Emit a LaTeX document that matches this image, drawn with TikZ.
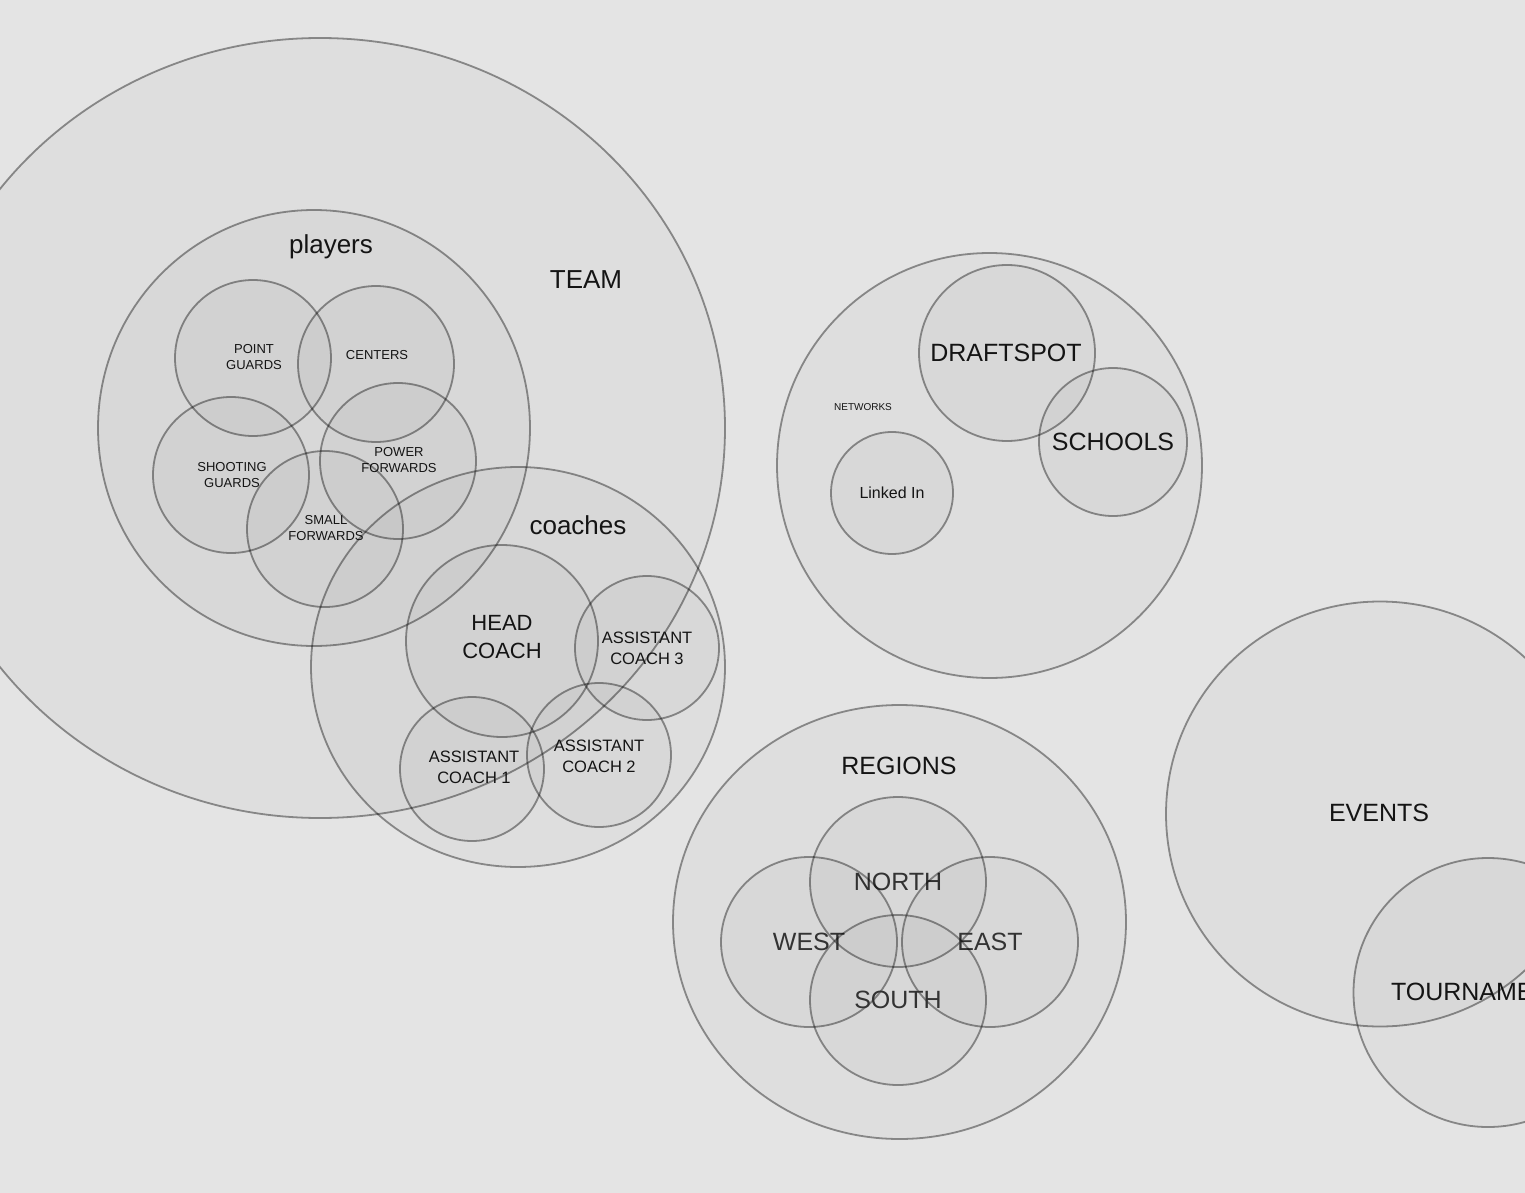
\documentclass[tikz,border=0pt]{standalone}
\usepackage{fontspec}
\setmainfont{Liberation Sans}
\definecolor{bgc}{HTML}{E4E4E4}
\newcommand\fsz[2]{\fontsize{#1}{#2}\selectfont}
\begin{document}
\begin{tikzpicture}[x=1pt,y=-1pt,
  vc/.style={fill=black, fill opacity=0.025, draw=black, draw opacity=0.4, line width=1.8pt},
  lbl/.style={inner sep=0pt, align=center, text=black!92},
  big/.style={lbl, font=\fsz{25}{30}},
  small/.style={lbl, font=\fsz{13}{16}},
  mid/.style={lbl, font=\fsz{16.5}{21}},
  head/.style={lbl, font=\fsz{22}{28}},
  reg/.style={lbl, font=\fsz{25}{30}, text=black!80}]
\clip (0,0) rectangle (1525,1193);
\fill[bgc] (0,0) rectangle (1525,1193);
\useasboundingbox (0,0) rectangle (1525,1193);

% TEAM cluster
\draw[vc] (320,428) ellipse [x radius=405pt, y radius=390pt];
\node[big, font=\fsz{26}{30}] (team) at (586,280) {TEAM};
\draw[vc] (314,428) ellipse [x radius=216pt, y radius=218pt];
\node[big, font=\fsz{26}{30}] (players) at (331,247) {players};
\draw[vc] (253,358) circle [radius=78pt];
\node[small] (pg) at (254,357) {POINT\\GUARDS};
\draw[vc] (376,364) circle [radius=78pt];
\node[small] (ce) at (377,355) {CENTERS};
\draw[vc] (231,475) circle [radius=78pt];
\node[small] (sg) at (232,475) {SHOOTING\\GUARDS};
\draw[vc] (398,461) circle [radius=78pt];
\node[small] (pf) at (399,460) {POWER\\FORWARDS};
\draw[vc] (325,529) circle [radius=78pt];
\node[small] (sf) at (326,528) {SMALL\\FORWARDS};

% coaches
\draw[vc] (518,667) ellipse [x radius=207pt, y radius=200pt];
\node[big, font=\fsz{26}{30}] (coaches) at (578,525) {coaches};
\draw[vc] (502,641) circle [radius=96pt];
\node[head] (hc) at (502,637) {HEAD\\COACH};
\draw[vc] (647,648) circle [radius=72pt];
\node[mid] (ac3) at (647,648) {ASSISTANT\\COACH 3};
\draw[vc] (472,769) circle [radius=72pt];
\node[mid] (ac1) at (474,767) {ASSISTANT\\COACH 1};
\draw[vc] (599,755) circle [radius=72pt];
\node[mid] (ac2) at (599,756) {ASSISTANT\\COACH 2};

% networks
\draw[vc] (989.5,465.5) circle [radius=212.5pt];
\node[lbl, font=\fsz{10}{12}] (net) at (863,407) {NETWORKS};
\draw[vc] (1007,353) circle [radius=88pt];
\node[big] (draft) at (1006,353) {DRAFTSPOT};
\draw[vc] (1113,442) circle [radius=74pt];
\node[big] (schools) at (1113,442) {SCHOOLS};
\draw[vc] (892,493) circle [radius=61pt];
\node[lbl, font=\fsz{16}{20}] (li) at (892,493) {Linked In};

% regions
\draw[vc] (899.5,922) ellipse [x radius=226.5pt, y radius=217pt];
\node[big] (regions) at (899,766) {REGIONS};
\draw[vc] (898,882) ellipse [x radius=88pt, y radius=85pt];
\node[reg] (north) at (898,882) {NORTH};
\draw[vc] (809,942) ellipse [x radius=88pt, y radius=85pt];
\node[reg] (west) at (809,942) {WEST};
\draw[vc] (990,942) ellipse [x radius=88pt, y radius=85pt];
\node[reg] (east) at (990,942) {EAST};
\draw[vc] (898,1000) ellipse [x radius=88pt, y radius=85pt];
\node[reg] (south) at (898,1000) {SOUTH};

% events
\draw[vc] (1380,814) ellipse [x radius=214pt, y radius=212.5pt];
\node[big] (events) at (1379,813) {EVENTS};
\draw[vc] (1488,992.5) circle [radius=134.5pt];
\node[big] (tourn) at (1479,992) {TOURNAMENT};
\end{tikzpicture}
\end{document}
